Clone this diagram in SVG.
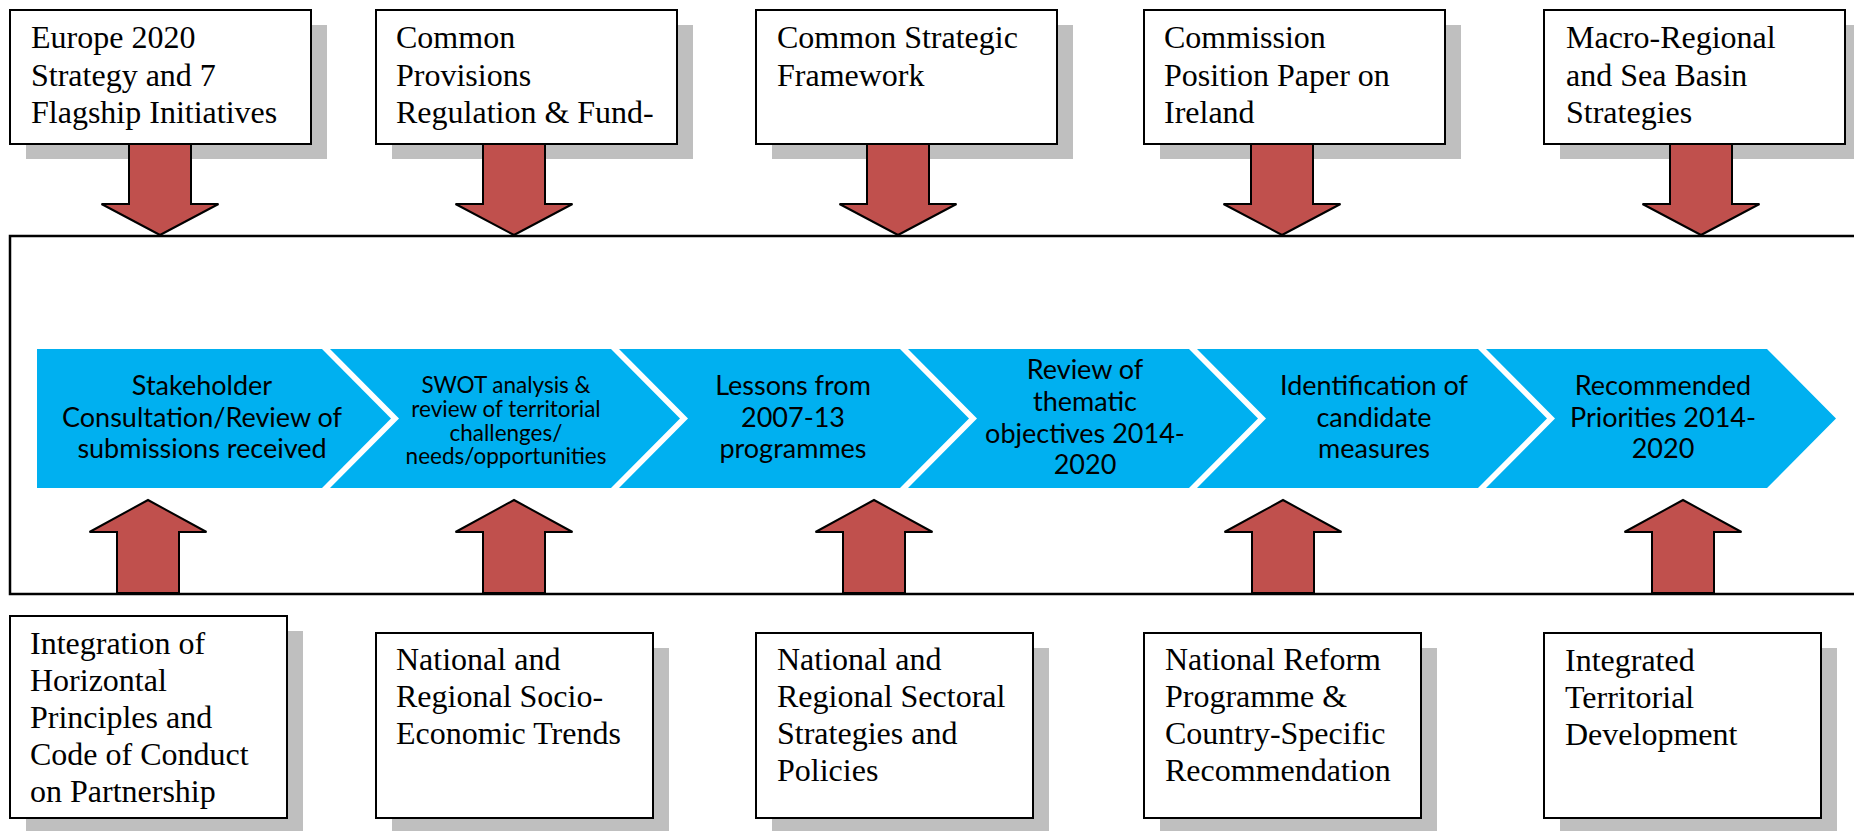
<svg xmlns="http://www.w3.org/2000/svg" width="1854" height="831" viewBox="0 0 1854 831">
  <style>
    .shadow { fill: #bfbfbf; }
    .box { fill: #ffffff; stroke: #000000; stroke-width: 2; }
    .frame { fill: none; stroke: #000000; stroke-width: 2.5; }
    .chev { fill: #00b0f0; }
    .arrow { fill: #c0504d; stroke: #000000; stroke-width: 2; stroke-linejoin: miter; }
    .lbl { font-family: "Liberation Serif", "Times New Roman", serif; font-size: 32px; fill: #000000; }
    .step { font-family: Lato, "Noto Sans", sans-serif; font-size: 27px; fill: #000000; text-anchor: middle; }
    .step-sm { font-family: Lato, "Noto Sans", sans-serif; font-size: 22.5px; fill: #000000; text-anchor: middle; }
  </style>
  <rect width="1854" height="831" fill="#ffffff"/>

  <!-- central frame holding the process chevrons -->
  <rect id="frame" class="frame" x="10" y="236" width="1860" height="358"/>

  <!-- process chevrons -->
  <g id="step1">
    <polygon class="chev" points="37,349 322,349 391,418.5 322,488 37,488"/>
    <text class="step" x="202"><tspan x="202" y="395">Stakeholder</tspan><tspan x="202" y="426.6">Consultation/Review of</tspan><tspan x="202" y="458.2">submissions received</tspan></text>
  </g>
  <g id="step2">
    <polygon class="chev" points="330,349 611,349 680,418.5 611,488 330,488 399,418.5"/>
    <text class="step-sm" x="506"><tspan x="506" y="393.3">SWOT analysis &amp;</tspan><tspan x="506" y="417">review of territorial</tspan><tspan x="506" y="440.6">challenges/</tspan><tspan x="506" y="464.3">needs/opportunities</tspan></text>
  </g>
  <g id="step3">
    <polygon class="chev" points="619,349 900,349 969,418.5 900,488 619,488 688,418.5"/>
    <text class="step" x="793"><tspan x="793" y="395">Lessons from</tspan><tspan x="793" y="426.6">2007-13</tspan><tspan x="793" y="458.2">programmes</tspan></text>
  </g>
  <g id="step4">
    <polygon class="chev" points="908,349 1189,349 1258,418.5 1189,488 908,488 977,418.5"/>
    <text class="step" x="1085"><tspan x="1085" y="379.3">Review of</tspan><tspan x="1085" y="410.9">thematic</tspan><tspan x="1085" y="442.5">objectives 2014-</tspan><tspan x="1085" y="474.1">2020</tspan></text>
  </g>
  <g id="step5">
    <polygon class="chev" points="1197,349 1478,349 1547,418.5 1478,488 1197,488 1266,418.5"/>
    <text class="step" x="1374"><tspan x="1374" y="395">Identification of</tspan><tspan x="1374" y="426.6">candidate</tspan><tspan x="1374" y="458.2">measures</tspan></text>
  </g>
  <g id="step6">
    <polygon class="chev" points="1486,349 1767,349 1836,418.5 1767,488 1486,488 1555,418.5"/>
    <text class="step" x="1663"><tspan x="1663" y="395">Recommended</tspan><tspan x="1663" y="426.6">Priorities 2014-</tspan><tspan x="1663" y="458.2">2020</tspan></text>
  </g>

  <!-- upper input boxes -->
  <g id="europe2020">
    <rect class="shadow" x="26" y="25" width="301" height="134"/>
    <rect class="box" x="10" y="10" width="301" height="134"/>
    <text class="lbl"><tspan x="31" y="48.3">Europe 2020</tspan><tspan x="31" y="85.8">Strategy and 7</tspan><tspan x="31" y="123.3">Flagship Initiatives</tspan></text>
  </g>
  <g id="cpr">
    <rect class="shadow" x="392" y="25" width="301" height="134"/>
    <rect class="box" x="376" y="10" width="301" height="134"/>
    <text class="lbl"><tspan x="396" y="48.3">Common</tspan><tspan x="396" y="85.8">Provisions</tspan><tspan x="396" y="123.3">Regulation &amp; Fund-</tspan></text>
  </g>
  <g id="csf">
    <rect class="shadow" x="772" y="25" width="301" height="134"/>
    <rect class="box" x="756" y="10" width="301" height="134"/>
    <text class="lbl"><tspan x="777" y="48.3">Common Strategic</tspan><tspan x="777" y="85.8">Framework</tspan></text>
  </g>
  <g id="position-paper">
    <rect class="shadow" x="1160" y="25" width="301" height="134"/>
    <rect class="box" x="1144" y="10" width="301" height="134"/>
    <text class="lbl"><tspan x="1164" y="48.3">Commission</tspan><tspan x="1164" y="85.8">Position Paper on</tspan><tspan x="1164" y="123.3">Ireland</tspan></text>
  </g>
  <g id="macro-regional">
    <rect class="shadow" x="1560" y="25" width="301" height="134"/>
    <rect class="box" x="1544" y="10" width="301" height="134"/>
    <text class="lbl"><tspan x="1566" y="48.3">Macro-Regional</tspan><tspan x="1566" y="85.8">and Sea Basin</tspan><tspan x="1566" y="123.3">Strategies</tspan></text>
  </g>

  <!-- lower input boxes -->
  <g id="horizontal-principles">
    <rect class="shadow" x="26" y="631" width="277" height="202"/>
    <rect class="box" x="10" y="616" width="277" height="202"/>
    <text class="lbl"><tspan x="30" y="653.5">Integration of</tspan><tspan x="30" y="690.5">Horizontal</tspan><tspan x="30" y="727.5">Principles and</tspan><tspan x="30" y="764.5">Code of Conduct</tspan><tspan x="30" y="801.5">on Partnership</tspan></text>
  </g>
  <g id="socio-economic">
    <rect class="shadow" x="392" y="648" width="277" height="185"/>
    <rect class="box" x="376" y="633" width="277" height="185"/>
    <text class="lbl"><tspan x="396" y="670">National and</tspan><tspan x="396" y="707">Regional Socio-</tspan><tspan x="396" y="744">Economic Trends</tspan></text>
  </g>
  <g id="sectoral">
    <rect class="shadow" x="772" y="648" width="277" height="185"/>
    <rect class="box" x="756" y="633" width="277" height="185"/>
    <text class="lbl"><tspan x="777" y="670">National and</tspan><tspan x="777" y="707">Regional Sectoral</tspan><tspan x="777" y="744">Strategies and</tspan><tspan x="777" y="781">Policies</tspan></text>
  </g>
  <g id="reform-programme">
    <rect class="shadow" x="1160" y="648" width="277" height="185"/>
    <rect class="box" x="1144" y="633" width="277" height="185"/>
    <text class="lbl"><tspan x="1165" y="670">National Reform</tspan><tspan x="1165" y="707">Programme &amp;</tspan><tspan x="1165" y="744">Country-Specific</tspan><tspan x="1165" y="781">Recommendation</tspan></text>
  </g>
  <g id="itd">
    <rect class="shadow" x="1560" y="648" width="277" height="185"/>
    <rect class="box" x="1544" y="633" width="277" height="185"/>
    <text class="lbl"><tspan x="1565" y="671">Integrated</tspan><tspan x="1565" y="708">Territorial</tspan><tspan x="1565" y="745">Development</tspan></text>
  </g>

  <!-- block arrows feeding the process -->
  <g id="connectors">
    <polygon class="arrow" points="129,144 191,144 191,204 218.5,204 160,235 101.5,204 129,204"/>
    <polygon class="arrow" points="483,144 545,144 545,204 572.5,204 514,235 455.5,204 483,204"/>
    <polygon class="arrow" points="867,144 929,144 929,204 956.5,204 898,235 839.5,204 867,204"/>
    <polygon class="arrow" points="1251,144 1313,144 1313,204 1340.5,204 1282,235 1223.5,204 1251,204"/>
    <polygon class="arrow" points="1670,144 1732,144 1732,204 1759.5,204 1701,235 1642.5,204 1670,204"/>

    <polygon class="arrow" points="117,593 179,593 179,532 206.5,532 148,500 89.5,532 117,532"/>
    <polygon class="arrow" points="483,593 545,593 545,532 572.5,532 514,500 455.5,532 483,532"/>
    <polygon class="arrow" points="843,593 905,593 905,532 932.5,532 874,500 815.5,532 843,532"/>
    <polygon class="arrow" points="1252,593 1314,593 1314,532 1341.5,532 1283,500 1224.5,532 1252,532"/>
    <polygon class="arrow" points="1652,593 1714,593 1714,532 1741.5,532 1683,500 1624.5,532 1652,532"/>
  </g>
</svg>
